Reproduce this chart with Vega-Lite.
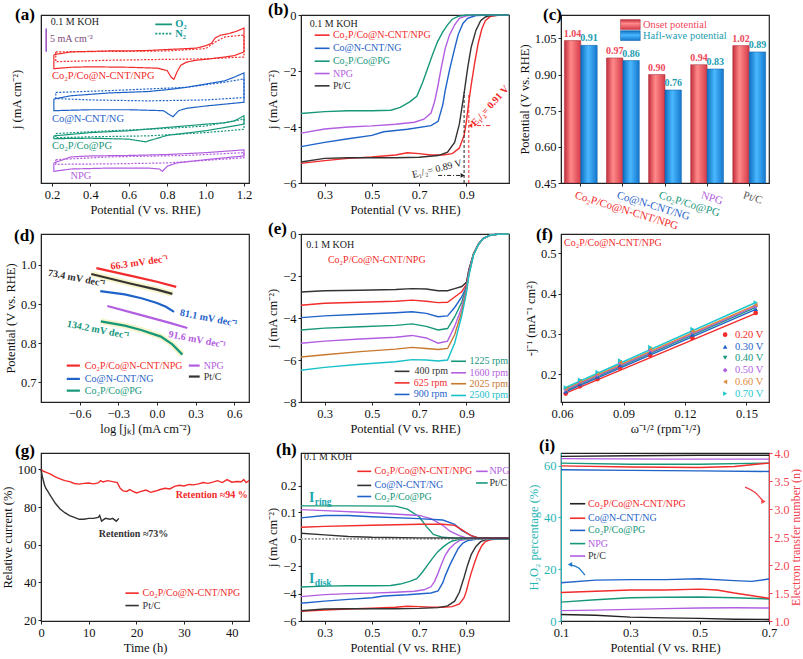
{
"$schema": "https://vega.github.io/schema/vega-lite/v6.json",
"autosize": {"type": "pad"},
"padding": {"top": 0, "left": 0, "right": 0, "bottom": 0},
"background": "white",
"config": {
 "font": "Liberation Serif",
 "view": {"stroke": "#222222", "strokeWidth": 1.2},
 "axis": {"labelFont": "Liberation Serif", "titleFont": "Liberation Serif", "labelFontSize": 12.5, "titleFontSize": 12.5, "titleFontWeight": "normal", "labelColor": "#111111", "titleColor": "#111111", "domainColor": "#222222", "tickColor": "#222222", "grid": false, "tickSize": 3, "labelFlush": false, "labelOverlap": false, "labelPadding": 2, "titlePadding": 3},
 "text": {"font": "Liberation Serif"},
 "title": {"font": "Liberation Serif"}
},
"datasets": {
 "cv": [
  {"s":"Co₂P/Co@N-CNT/NPG","m":"O₂","i":1,"x":0.21,"y":27.5},{"s":"Co₂P/Co@N-CNT/NPG","m":"O₂","i":2,"x":0.3,"y":28.1},{"s":"Co₂P/Co@N-CNT/NPG","m":"O₂","i":3,"x":0.4,"y":28.2},{"s":"Co₂P/Co@N-CNT/NPG","m":"O₂","i":4,"x":0.5,"y":28.3},{"s":"Co₂P/Co@N-CNT/NPG","m":"O₂","i":5,"x":0.6,"y":28.3},{"s":"Co₂P/Co@N-CNT/NPG","m":"O₂","i":6,"x":0.7,"y":28.4},{"s":"Co₂P/Co@N-CNT/NPG","m":"O₂","i":7,"x":0.8,"y":28.6},{"s":"Co₂P/Co@N-CNT/NPG","m":"O₂","i":8,"x":0.9,"y":28.8},{"s":"Co₂P/Co@N-CNT/NPG","m":"O₂","i":9,"x":0.95,"y":28.9},{"s":"Co₂P/Co@N-CNT/NPG","m":"O₂","i":10,"x":1.0,"y":29.4},{"s":"Co₂P/Co@N-CNT/NPG","m":"O₂","i":11,"x":1.03,"y":29.9},{"s":"Co₂P/Co@N-CNT/NPG","m":"O₂","i":12,"x":1.05,"y":31.1},{"s":"Co₂P/Co@N-CNT/NPG","m":"O₂","i":13,"x":1.08,"y":31.7},{"s":"Co₂P/Co@N-CNT/NPG","m":"O₂","i":14,"x":1.12,"y":32.0},{"s":"Co₂P/Co@N-CNT/NPG","m":"O₂","i":15,"x":1.16,"y":32.5},{"s":"Co₂P/Co@N-CNT/NPG","m":"O₂","i":16,"x":1.2,"y":33.2},{"s":"Co₂P/Co@N-CNT/NPG","m":"O₂","i":17,"x":1.2,"y":28.1},{"s":"Co₂P/Co@N-CNT/NPG","m":"O₂","i":18,"x":1.15,"y":27.3},{"s":"Co₂P/Co@N-CNT/NPG","m":"O₂","i":19,"x":1.1,"y":27.0},{"s":"Co₂P/Co@N-CNT/NPG","m":"O₂","i":20,"x":1.0,"y":26.5},{"s":"Co₂P/Co@N-CNT/NPG","m":"O₂","i":21,"x":0.95,"y":26.3},{"s":"Co₂P/Co@N-CNT/NPG","m":"O₂","i":22,"x":0.9,"y":25.9},{"s":"Co₂P/Co@N-CNT/NPG","m":"O₂","i":23,"x":0.87,"y":25.2},{"s":"Co₂P/Co@N-CNT/NPG","m":"O₂","i":24,"x":0.85,"y":23.7},{"s":"Co₂P/Co@N-CNT/NPG","m":"O₂","i":25,"x":0.835,"y":22.2},{"s":"Co₂P/Co@N-CNT/NPG","m":"O₂","i":26,"x":0.82,"y":22.7},{"s":"Co₂P/Co@N-CNT/NPG","m":"O₂","i":27,"x":0.8,"y":24.1},{"s":"Co₂P/Co@N-CNT/NPG","m":"O₂","i":28,"x":0.75,"y":24.6},{"s":"Co₂P/Co@N-CNT/NPG","m":"O₂","i":29,"x":0.6,"y":24.8},{"s":"Co₂P/Co@N-CNT/NPG","m":"O₂","i":30,"x":0.4,"y":24.9},{"s":"Co₂P/Co@N-CNT/NPG","m":"O₂","i":31,"x":0.3,"y":24.8},{"s":"Co₂P/Co@N-CNT/NPG","m":"O₂","i":32,"x":0.21,"y":24.5},{"s":"Co₂P/Co@N-CNT/NPG","m":"O₂","i":33,"x":0.21,"y":27.5},
  {"s":"Co₂P/Co@N-CNT/NPG","m":"N₂","i":1,"x":0.22,"y":28.1},{"s":"Co₂P/Co@N-CNT/NPG","m":"N₂","i":2,"x":0.5,"y":28.2},{"s":"Co₂P/Co@N-CNT/NPG","m":"N₂","i":3,"x":0.8,"y":28.3},{"s":"Co₂P/Co@N-CNT/NPG","m":"N₂","i":4,"x":1.0,"y":28.8},{"s":"Co₂P/Co@N-CNT/NPG","m":"N₂","i":5,"x":1.05,"y":30.2},{"s":"Co₂P/Co@N-CNT/NPG","m":"N₂","i":6,"x":1.1,"y":31.3},{"s":"Co₂P/Co@N-CNT/NPG","m":"N₂","i":7,"x":1.2,"y":31.7},{"s":"Co₂P/Co@N-CNT/NPG","m":"N₂","i":8,"x":1.2,"y":27.0},{"s":"Co₂P/Co@N-CNT/NPG","m":"N₂","i":9,"x":1.0,"y":26.6},{"s":"Co₂P/Co@N-CNT/NPG","m":"N₂","i":10,"x":0.8,"y":26.5},{"s":"Co₂P/Co@N-CNT/NPG","m":"N₂","i":11,"x":0.5,"y":26.3},{"s":"Co₂P/Co@N-CNT/NPG","m":"N₂","i":12,"x":0.22,"y":26.0},{"s":"Co₂P/Co@N-CNT/NPG","m":"N₂","i":13,"x":0.22,"y":28.1},
  {"s":"Co@N-CNT/NG","m":"O₂","i":1,"x":0.21,"y":18.0},{"s":"Co@N-CNT/NG","m":"O₂","i":2,"x":0.3,"y":18.7},{"s":"Co@N-CNT/NG","m":"O₂","i":3,"x":0.5,"y":19.3},{"s":"Co@N-CNT/NG","m":"O₂","i":4,"x":0.7,"y":19.6},{"s":"Co@N-CNT/NG","m":"O₂","i":5,"x":0.8,"y":20.0},{"s":"Co@N-CNT/NG","m":"O₂","i":6,"x":0.9,"y":20.5},{"s":"Co@N-CNT/NG","m":"O₂","i":7,"x":1.0,"y":21.2},{"s":"Co@N-CNT/NG","m":"O₂","i":8,"x":1.1,"y":21.9},{"s":"Co@N-CNT/NG","m":"O₂","i":9,"x":1.15,"y":22.7},{"s":"Co@N-CNT/NG","m":"O₂","i":10,"x":1.2,"y":23.6},{"s":"Co@N-CNT/NG","m":"O₂","i":11,"x":1.2,"y":17.3},{"s":"Co@N-CNT/NG","m":"O₂","i":12,"x":1.1,"y":16.9},{"s":"Co@N-CNT/NG","m":"O₂","i":13,"x":1.0,"y":16.5},{"s":"Co@N-CNT/NG","m":"O₂","i":14,"x":0.9,"y":16.0},{"s":"Co@N-CNT/NG","m":"O₂","i":15,"x":0.86,"y":15.5},{"s":"Co@N-CNT/NG","m":"O₂","i":16,"x":0.83,"y":14.2},{"s":"Co@N-CNT/NG","m":"O₂","i":17,"x":0.81,"y":14.7},{"s":"Co@N-CNT/NG","m":"O₂","i":18,"x":0.78,"y":15.5},{"s":"Co@N-CNT/NG","m":"O₂","i":19,"x":0.6,"y":15.7},{"s":"Co@N-CNT/NG","m":"O₂","i":20,"x":0.4,"y":15.7},{"s":"Co@N-CNT/NG","m":"O₂","i":21,"x":0.21,"y":15.5},{"s":"Co@N-CNT/NG","m":"O₂","i":22,"x":0.21,"y":18.0},
  {"s":"Co@N-CNT/NG","m":"N₂","i":1,"x":0.22,"y":19.4},{"s":"Co@N-CNT/NG","m":"N₂","i":2,"x":0.5,"y":19.8},{"s":"Co@N-CNT/NG","m":"N₂","i":3,"x":0.9,"y":20.5},{"s":"Co@N-CNT/NG","m":"N₂","i":4,"x":1.1,"y":21.6},{"s":"Co@N-CNT/NG","m":"N₂","i":5,"x":1.2,"y":22.3},{"s":"Co@N-CNT/NG","m":"N₂","i":6,"x":1.2,"y":18.3},{"s":"Co@N-CNT/NG","m":"N₂","i":7,"x":1.0,"y":17.8},{"s":"Co@N-CNT/NG","m":"N₂","i":8,"x":0.7,"y":17.6},{"s":"Co@N-CNT/NG","m":"N₂","i":9,"x":0.4,"y":17.8},{"s":"Co@N-CNT/NG","m":"N₂","i":10,"x":0.22,"y":18.1},{"s":"Co@N-CNT/NG","m":"N₂","i":11,"x":0.22,"y":19.4},
  {"s":"Co₂P/Co@PG","m":"O₂","i":1,"x":0.21,"y":10.1},{"s":"Co₂P/Co@PG","m":"O₂","i":2,"x":0.4,"y":10.8},{"s":"Co₂P/Co@PG","m":"O₂","i":3,"x":0.6,"y":11.2},{"s":"Co₂P/Co@PG","m":"O₂","i":4,"x":0.8,"y":11.9},{"s":"Co₂P/Co@PG","m":"O₂","i":5,"x":1.0,"y":12.6},{"s":"Co₂P/Co@PG","m":"O₂","i":6,"x":1.1,"y":12.9},{"s":"Co₂P/Co@PG","m":"O₂","i":7,"x":1.15,"y":13.3},{"s":"Co₂P/Co@PG","m":"O₂","i":8,"x":1.2,"y":14.4},{"s":"Co₂P/Co@PG","m":"O₂","i":9,"x":1.2,"y":12.6},{"s":"Co₂P/Co@PG","m":"O₂","i":10,"x":1.1,"y":11.9},{"s":"Co₂P/Co@PG","m":"O₂","i":11,"x":1.0,"y":11.2},{"s":"Co₂P/Co@PG","m":"O₂","i":12,"x":0.8,"y":10.2},{"s":"Co₂P/Co@PG","m":"O₂","i":13,"x":0.7,"y":9.0},{"s":"Co₂P/Co@PG","m":"O₂","i":14,"x":0.69,"y":8.8},{"s":"Co₂P/Co@PG","m":"O₂","i":15,"x":0.6,"y":9.4},{"s":"Co₂P/Co@PG","m":"O₂","i":16,"x":0.4,"y":9.6},{"s":"Co₂P/Co@PG","m":"O₂","i":17,"x":0.21,"y":9.5},{"s":"Co₂P/Co@PG","m":"O₂","i":18,"x":0.21,"y":10.1},
  {"s":"Co₂P/Co@PG","m":"N₂","i":1,"x":0.22,"y":10.6},{"s":"Co₂P/Co@PG","m":"N₂","i":2,"x":0.5,"y":11.2},{"s":"Co₂P/Co@PG","m":"N₂","i":3,"x":0.8,"y":11.7},{"s":"Co₂P/Co@PG","m":"N₂","i":4,"x":1.0,"y":12.2},{"s":"Co₂P/Co@PG","m":"N₂","i":5,"x":1.2,"y":13.7},{"s":"Co₂P/Co@PG","m":"N₂","i":6,"x":1.2,"y":11.5},{"s":"Co₂P/Co@PG","m":"N₂","i":7,"x":1.0,"y":10.8},{"s":"Co₂P/Co@PG","m":"N₂","i":8,"x":0.7,"y":10.1},{"s":"Co₂P/Co@PG","m":"N₂","i":9,"x":0.4,"y":9.9},{"s":"Co₂P/Co@PG","m":"N₂","i":10,"x":0.22,"y":9.7},{"s":"Co₂P/Co@PG","m":"N₂","i":11,"x":0.22,"y":10.6},
  {"s":"NPG","m":"O₂","i":1,"x":0.21,"y":4.3},{"s":"NPG","m":"O₂","i":2,"x":0.3,"y":5.6},{"s":"NPG","m":"O₂","i":3,"x":0.4,"y":5.8},{"s":"NPG","m":"O₂","i":4,"x":0.6,"y":5.9},{"s":"NPG","m":"O₂","i":5,"x":0.8,"y":6.1},{"s":"NPG","m":"O₂","i":6,"x":1.0,"y":6.5},{"s":"NPG","m":"O₂","i":7,"x":1.2,"y":7.1},{"s":"NPG","m":"O₂","i":8,"x":1.2,"y":5.8},{"s":"NPG","m":"O₂","i":9,"x":1.0,"y":5.0},{"s":"NPG","m":"O₂","i":10,"x":0.85,"y":4.3},{"s":"NPG","m":"O₂","i":11,"x":0.8,"y":3.6},{"s":"NPG","m":"O₂","i":12,"x":0.775,"y":2.5},{"s":"NPG","m":"O₂","i":13,"x":0.76,"y":3.0},{"s":"NPG","m":"O₂","i":14,"x":0.7,"y":3.2},{"s":"NPG","m":"O₂","i":15,"x":0.5,"y":3.2},{"s":"NPG","m":"O₂","i":16,"x":0.3,"y":3.0},{"s":"NPG","m":"O₂","i":17,"x":0.21,"y":2.5},{"s":"NPG","m":"O₂","i":18,"x":0.21,"y":4.3},
  {"s":"NPG","m":"N₂","i":1,"x":0.22,"y":5.0},{"s":"NPG","m":"N₂","i":2,"x":0.5,"y":5.6},{"s":"NPG","m":"N₂","i":3,"x":0.9,"y":5.9},{"s":"NPG","m":"N₂","i":4,"x":1.2,"y":6.5},{"s":"NPG","m":"N₂","i":5,"x":1.2,"y":5.4},{"s":"NPG","m":"N₂","i":6,"x":0.8,"y":4.3},{"s":"NPG","m":"N₂","i":7,"x":0.5,"y":4.1},{"s":"NPG","m":"N₂","i":8,"x":0.22,"y":4.0},{"s":"NPG","m":"N₂","i":9,"x":0.22,"y":5.0}
 ],
 "lsv": [
  {"s":"Co₂P/Co@N-CNT/NPG","x":0.2,"y":-5.3},{"s":"Co₂P/Co@N-CNT/NPG","x":0.3,"y":-5.2},{"s":"Co₂P/Co@N-CNT/NPG","x":0.4,"y":-5.12},{"s":"Co₂P/Co@N-CNT/NPG","x":0.5,"y":-5.07},{"s":"Co₂P/Co@N-CNT/NPG","x":0.6,"y":-5.0},{"s":"Co₂P/Co@N-CNT/NPG","x":0.65,"y":-4.92},{"s":"Co₂P/Co@N-CNT/NPG","x":0.7,"y":-4.95},{"s":"Co₂P/Co@N-CNT/NPG","x":0.75,"y":-5.0},{"s":"Co₂P/Co@N-CNT/NPG","x":0.8,"y":-5.0},{"s":"Co₂P/Co@N-CNT/NPG","x":0.84,"y":-4.95},{"s":"Co₂P/Co@N-CNT/NPG","x":0.87,"y":-4.75},{"s":"Co₂P/Co@N-CNT/NPG","x":0.89,"y":-4.3},{"s":"Co₂P/Co@N-CNT/NPG","x":0.9,"y":-3.8},{"s":"Co₂P/Co@N-CNT/NPG","x":0.91,"y":-3.1},{"s":"Co₂P/Co@N-CNT/NPG","x":0.92,"y":-2.5},{"s":"Co₂P/Co@N-CNT/NPG","x":0.935,"y":-1.7},{"s":"Co₂P/Co@N-CNT/NPG","x":0.95,"y":-1.0},{"s":"Co₂P/Co@N-CNT/NPG","x":0.965,"y":-0.5},{"s":"Co₂P/Co@N-CNT/NPG","x":0.98,"y":-0.2},{"s":"Co₂P/Co@N-CNT/NPG","x":1.0,"y":-0.06},{"s":"Co₂P/Co@N-CNT/NPG","x":1.03,"y":-0.01},{"s":"Co₂P/Co@N-CNT/NPG","x":1.08,"y":0},
  {"s":"Pt/C","x":0.2,"y":-5.25},{"s":"Pt/C","x":0.3,"y":-5.12},{"s":"Pt/C","x":0.4,"y":-5.1},{"s":"Pt/C","x":0.5,"y":-5.1},{"s":"Pt/C","x":0.6,"y":-5.1},{"s":"Pt/C","x":0.7,"y":-5.08},{"s":"Pt/C","x":0.78,"y":-5.02},{"s":"Pt/C","x":0.82,"y":-4.9},{"s":"Pt/C","x":0.85,"y":-4.55},{"s":"Pt/C","x":0.87,"y":-3.9},{"s":"Pt/C","x":0.89,"y":-2.8},{"s":"Pt/C","x":0.905,"y":-1.9},{"s":"Pt/C","x":0.92,"y":-1.15},{"s":"Pt/C","x":0.94,"y":-0.55},{"s":"Pt/C","x":0.96,"y":-0.2},{"s":"Pt/C","x":0.98,"y":-0.07},{"s":"Pt/C","x":1.0,"y":-0.02},{"s":"Pt/C","x":1.08,"y":0},
  {"s":"Co@N-CNT/NG","x":0.2,"y":-4.7},{"s":"Co@N-CNT/NG","x":0.3,"y":-4.55},{"s":"Co@N-CNT/NG","x":0.4,"y":-4.42},{"s":"Co@N-CNT/NG","x":0.5,"y":-4.3},{"s":"Co@N-CNT/NG","x":0.55,"y":-4.17},{"s":"Co@N-CNT/NG","x":0.65,"y":-4.08},{"s":"Co@N-CNT/NG","x":0.75,"y":-3.95},{"s":"Co@N-CNT/NG","x":0.78,"y":-3.8},{"s":"Co@N-CNT/NG","x":0.8,"y":-3.2},{"s":"Co@N-CNT/NG","x":0.81,"y":-2.7},{"s":"Co@N-CNT/NG","x":0.83,"y":-1.9},{"s":"Co@N-CNT/NG","x":0.85,"y":-1.2},{"s":"Co@N-CNT/NG","x":0.865,"y":-0.7},{"s":"Co@N-CNT/NG","x":0.885,"y":-0.3},{"s":"Co@N-CNT/NG","x":0.905,"y":-0.12},{"s":"Co@N-CNT/NG","x":0.94,"y":-0.02},{"s":"Co@N-CNT/NG","x":1.0,"y":0},{"s":"Co@N-CNT/NG","x":1.08,"y":0},
  {"s":"NPG","x":0.2,"y":-4.22},{"s":"NPG","x":0.3,"y":-4.07},{"s":"NPG","x":0.4,"y":-4.0},{"s":"NPG","x":0.5,"y":-3.96},{"s":"NPG","x":0.6,"y":-3.9},{"s":"NPG","x":0.68,"y":-3.83},{"s":"NPG","x":0.72,"y":-3.72},{"s":"NPG","x":0.75,"y":-3.5},{"s":"NPG","x":0.765,"y":-3.1},{"s":"NPG","x":0.78,"y":-2.5},{"s":"NPG","x":0.793,"y":-1.9},{"s":"NPG","x":0.81,"y":-1.2},{"s":"NPG","x":0.828,"y":-0.72},{"s":"NPG","x":0.85,"y":-0.35},{"s":"NPG","x":0.87,"y":-0.12},{"s":"NPG","x":0.9,"y":-0.03},{"s":"NPG","x":0.94,"y":0},{"s":"NPG","x":1.08,"y":0},
  {"s":"Co₂P/Co@PG","x":0.2,"y":-3.52},{"s":"Co₂P/Co@PG","x":0.3,"y":-3.45},{"s":"Co₂P/Co@PG","x":0.4,"y":-3.42},{"s":"Co₂P/Co@PG","x":0.5,"y":-3.42},{"s":"Co₂P/Co@PG","x":0.58,"y":-3.4},{"s":"Co₂P/Co@PG","x":0.62,"y":-3.3},{"s":"Co₂P/Co@PG","x":0.66,"y":-3.1},{"s":"Co₂P/Co@PG","x":0.69,"y":-2.9},{"s":"Co₂P/Co@PG","x":0.715,"y":-2.4},{"s":"Co₂P/Co@PG","x":0.736,"y":-1.9},{"s":"Co₂P/Co@PG","x":0.757,"y":-1.4},{"s":"Co₂P/Co@PG","x":0.778,"y":-0.95},{"s":"Co₂P/Co@PG","x":0.8,"y":-0.6},{"s":"Co₂P/Co@PG","x":0.82,"y":-0.35},{"s":"Co₂P/Co@PG","x":0.84,"y":-0.15},{"s":"Co₂P/Co@PG","x":0.865,"y":-0.05},{"s":"Co₂P/Co@PG","x":0.9,"y":0},{"s":"Co₂P/Co@PG","x":1.08,"y":0}
 ],
 "bars": [
  {"cat":"Co₂P/Co@N-CNT/NPG","type":"Onset potential","v":1.041,"lab":"1.04"},
  {"cat":"Co@N-CNT/NG","type":"Onset potential","v":0.969,"lab":"0.97"},
  {"cat":"Co₂P/Co@PG","type":"Onset potential","v":0.90,"lab":"0.90"},
  {"cat":"NPG","type":"Onset potential","v":0.941,"lab":"0.94"},
  {"cat":"Pt/C","type":"Onset potential","v":1.02,"lab":"1.02"},
  {"cat":"Co₂P/Co@N-CNT/NPG","type":"Hafl-wave potential","v":1.021,"lab":"0.91"},
  {"cat":"Co@N-CNT/NG","type":"Hafl-wave potential","v":0.958,"lab":"0.86"},
  {"cat":"Co₂P/Co@PG","type":"Hafl-wave potential","v":0.836,"lab":"0.76"},
  {"cat":"NPG","type":"Hafl-wave potential","v":0.923,"lab":"0.83"},
  {"cat":"Pt/C","type":"Hafl-wave potential","v":0.994,"lab":"0.89"}
 ],
 "tafel": [
  {"s":"Co₂P/Co@N-CNT/NPG","x":-0.47,"y":0.992},{"s":"Co₂P/Co@N-CNT/NPG","x":-0.2,"y":0.972},{"s":"Co₂P/Co@N-CNT/NPG","x":0.0,"y":0.957},{"s":"Co₂P/Co@N-CNT/NPG","x":0.15,"y":0.944},
  {"s":"Pt/C","x":-0.51,"y":0.977},{"s":"Pt/C","x":-0.2,"y":0.952},{"s":"Pt/C","x":0.0,"y":0.937},{"s":"Pt/C","x":0.12,"y":0.926},
  {"s":"Co@N-CNT/NG","x":-0.44,"y":0.933},{"s":"Co@N-CNT/NG","x":-0.25,"y":0.925},{"s":"Co@N-CNT/NG","x":-0.12,"y":0.915},{"s":"Co@N-CNT/NG","x":0.0,"y":0.903},{"s":"Co@N-CNT/NG","x":0.07,"y":0.893},{"s":"Co@N-CNT/NG","x":0.133,"y":0.880},
  {"s":"NPG","x":-0.385,"y":0.895},{"s":"NPG","x":-0.1,"y":0.870},{"s":"NPG","x":0.1,"y":0.852},{"s":"NPG","x":0.236,"y":0.839},
  {"s":"Co₂P/Co@PG","x":-0.436,"y":0.856},{"s":"Co₂P/Co@PG","x":-0.25,"y":0.845},{"s":"Co₂P/Co@PG","x":-0.123,"y":0.834},{"s":"Co₂P/Co@PG","x":0.031,"y":0.817},{"s":"Co₂P/Co@PG","x":0.12,"y":0.797},{"s":"Co₂P/Co@PG","x":0.198,"y":0.771}
 ],
 "rpm": [
  {"r":"400 rpm","x":0.2,"y":-2.76},{"r":"400 rpm","x":0.3,"y":-2.7},{"r":"400 rpm","x":0.45,"y":-2.68},{"r":"400 rpm","x":0.6,"y":-2.64},{"r":"400 rpm","x":0.67,"y":-2.6},{"r":"400 rpm","x":0.73,"y":-2.62},{"r":"400 rpm","x":0.78,"y":-2.7},{"r":"400 rpm","x":0.82,"y":-2.7},{"r":"400 rpm","x":0.85,"y":-2.6},{"r":"400 rpm","x":0.88,"y":-2.5},{"r":"400 rpm","x":0.9,"y":-2.3},{"r":"400 rpm","x":0.91,"y":-1.7},{"r":"400 rpm","x":0.93,"y":-0.94},{"r":"400 rpm","x":0.95,"y":-0.5},{"r":"400 rpm","x":0.97,"y":-0.22},{"r":"400 rpm","x":1.0,"y":-0.06},{"r":"400 rpm","x":1.03,"y":-0.01},{"r":"400 rpm","x":1.08,"y":0},
  {"r":"625 rpm","x":0.2,"y":-3.39},{"r":"625 rpm","x":0.3,"y":-3.3},{"r":"625 rpm","x":0.45,"y":-3.25},{"r":"625 rpm","x":0.6,"y":-3.2},{"r":"625 rpm","x":0.67,"y":-3.15},{"r":"625 rpm","x":0.73,"y":-3.2},{"r":"625 rpm","x":0.78,"y":-3.27},{"r":"625 rpm","x":0.82,"y":-3.25},{"r":"625 rpm","x":0.85,"y":-3.0},{"r":"625 rpm","x":0.88,"y":-2.75},{"r":"625 rpm","x":0.9,"y":-2.4},{"r":"625 rpm","x":0.91,"y":-1.75},{"r":"625 rpm","x":0.93,"y":-0.94},{"r":"625 rpm","x":0.95,"y":-0.5},{"r":"625 rpm","x":0.97,"y":-0.22},{"r":"625 rpm","x":1.0,"y":-0.06},{"r":"625 rpm","x":1.03,"y":-0.01},{"r":"625 rpm","x":1.08,"y":0},
  {"r":"900 rpm","x":0.2,"y":-3.98},{"r":"900 rpm","x":0.3,"y":-3.9},{"r":"900 rpm","x":0.45,"y":-3.82},{"r":"900 rpm","x":0.6,"y":-3.75},{"r":"900 rpm","x":0.67,"y":-3.7},{"r":"900 rpm","x":0.73,"y":-3.78},{"r":"900 rpm","x":0.78,"y":-3.94},{"r":"900 rpm","x":0.82,"y":-3.9},{"r":"900 rpm","x":0.85,"y":-3.5},{"r":"900 rpm","x":0.88,"y":-3.0},{"r":"900 rpm","x":0.9,"y":-2.5},{"r":"900 rpm","x":0.91,"y":-1.8},{"r":"900 rpm","x":0.93,"y":-0.95},{"r":"900 rpm","x":0.95,"y":-0.5},{"r":"900 rpm","x":0.97,"y":-0.22},{"r":"900 rpm","x":1.0,"y":-0.06},{"r":"900 rpm","x":1.03,"y":-0.01},{"r":"900 rpm","x":1.08,"y":0},
  {"r":"1225 rpm","x":0.2,"y":-4.57},{"r":"1225 rpm","x":0.3,"y":-4.48},{"r":"1225 rpm","x":0.45,"y":-4.42},{"r":"1225 rpm","x":0.6,"y":-4.35},{"r":"1225 rpm","x":0.67,"y":-4.28},{"r":"1225 rpm","x":0.73,"y":-4.4},{"r":"1225 rpm","x":0.78,"y":-4.57},{"r":"1225 rpm","x":0.82,"y":-4.5},{"r":"1225 rpm","x":0.85,"y":-3.95},{"r":"1225 rpm","x":0.88,"y":-3.25},{"r":"1225 rpm","x":0.9,"y":-2.55},{"r":"1225 rpm","x":0.91,"y":-1.85},{"r":"1225 rpm","x":0.93,"y":-0.96},{"r":"1225 rpm","x":0.95,"y":-0.5},{"r":"1225 rpm","x":0.97,"y":-0.22},{"r":"1225 rpm","x":1.0,"y":-0.06},{"r":"1225 rpm","x":1.03,"y":-0.01},{"r":"1225 rpm","x":1.08,"y":0},
  {"r":"1600 rpm","x":0.2,"y":-5.2},{"r":"1600 rpm","x":0.3,"y":-5.1},{"r":"1600 rpm","x":0.45,"y":-5.0},{"r":"1600 rpm","x":0.6,"y":-4.92},{"r":"1600 rpm","x":0.67,"y":-4.83},{"r":"1600 rpm","x":0.73,"y":-4.95},{"r":"1600 rpm","x":0.78,"y":-5.2},{"r":"1600 rpm","x":0.82,"y":-5.1},{"r":"1600 rpm","x":0.85,"y":-4.4},{"r":"1600 rpm","x":0.88,"y":-3.5},{"r":"1600 rpm","x":0.9,"y":-2.6},{"r":"1600 rpm","x":0.91,"y":-1.9},{"r":"1600 rpm","x":0.93,"y":-0.97},{"r":"1600 rpm","x":0.95,"y":-0.51},{"r":"1600 rpm","x":0.97,"y":-0.22},{"r":"1600 rpm","x":1.0,"y":-0.06},{"r":"1600 rpm","x":1.03,"y":-0.01},{"r":"1600 rpm","x":1.08,"y":0},
  {"r":"2025 rpm","x":0.2,"y":-5.86},{"r":"2025 rpm","x":0.3,"y":-5.75},{"r":"2025 rpm","x":0.45,"y":-5.6},{"r":"2025 rpm","x":0.6,"y":-5.48},{"r":"2025 rpm","x":0.67,"y":-5.4},{"r":"2025 rpm","x":0.73,"y":-5.45},{"r":"2025 rpm","x":0.78,"y":-5.5},{"r":"2025 rpm","x":0.82,"y":-5.45},{"r":"2025 rpm","x":0.85,"y":-4.8},{"r":"2025 rpm","x":0.88,"y":-3.7},{"r":"2025 rpm","x":0.9,"y":-2.7},{"r":"2025 rpm","x":0.91,"y":-1.95},{"r":"2025 rpm","x":0.93,"y":-0.98},{"r":"2025 rpm","x":0.95,"y":-0.51},{"r":"2025 rpm","x":0.97,"y":-0.22},{"r":"2025 rpm","x":1.0,"y":-0.06},{"r":"2025 rpm","x":1.03,"y":-0.01},{"r":"2025 rpm","x":1.08,"y":0},
  {"r":"2500 rpm","x":0.2,"y":-6.49},{"r":"2500 rpm","x":0.3,"y":-6.35},{"r":"2500 rpm","x":0.45,"y":-6.2},{"r":"2500 rpm","x":0.6,"y":-6.08},{"r":"2500 rpm","x":0.67,"y":-5.98},{"r":"2500 rpm","x":0.73,"y":-6.0},{"r":"2500 rpm","x":0.78,"y":-6.05},{"r":"2500 rpm","x":0.82,"y":-6.0},{"r":"2500 rpm","x":0.85,"y":-5.2},{"r":"2500 rpm","x":0.88,"y":-3.9},{"r":"2500 rpm","x":0.9,"y":-2.8},{"r":"2500 rpm","x":0.91,"y":-2.0},{"r":"2500 rpm","x":0.93,"y":-1.0},{"r":"2500 rpm","x":0.95,"y":-0.52},{"r":"2500 rpm","x":0.97,"y":-0.22},{"r":"2500 rpm","x":1.0,"y":-0.06},{"r":"2500 rpm","x":1.03,"y":-0.01},{"r":"2500 rpm","x":1.08,"y":0}
 ],
 "kl": [
  {"v":"0.20 V","x":0.0618,"y":0.152},{"v":"0.20 V","x":0.0687,"y":0.170},{"v":"0.20 V","x":0.0773,"y":0.188},{"v":"0.20 V","x":0.0883,"y":0.216},{"v":"0.20 V","x":0.1030,"y":0.247},{"v":"0.20 V","x":0.1236,"y":0.290},{"v":"0.20 V","x":0.1545,"y":0.352},
  {"v":"0.30 V","x":0.0618,"y":0.157},{"v":"0.30 V","x":0.0687,"y":0.175},{"v":"0.30 V","x":0.0773,"y":0.194},{"v":"0.30 V","x":0.0883,"y":0.222},{"v":"0.30 V","x":0.1030,"y":0.254},{"v":"0.30 V","x":0.1236,"y":0.298},{"v":"0.30 V","x":0.1545,"y":0.362},
  {"v":"0.40 V","x":0.0618,"y":0.160},{"v":"0.40 V","x":0.0687,"y":0.178},{"v":"0.40 V","x":0.0773,"y":0.197},{"v":"0.40 V","x":0.0883,"y":0.226},{"v":"0.40 V","x":0.1030,"y":0.258},{"v":"0.40 V","x":0.1236,"y":0.302},{"v":"0.40 V","x":0.1545,"y":0.366},
  {"v":"0.50 V","x":0.0618,"y":0.162},{"v":"0.50 V","x":0.0687,"y":0.181},{"v":"0.50 V","x":0.0773,"y":0.199},{"v":"0.50 V","x":0.0883,"y":0.228},{"v":"0.50 V","x":0.1030,"y":0.260},{"v":"0.50 V","x":0.1236,"y":0.305},{"v":"0.50 V","x":0.1545,"y":0.369},
  {"v":"0.60 V","x":0.0618,"y":0.164},{"v":"0.60 V","x":0.0687,"y":0.183},{"v":"0.60 V","x":0.0773,"y":0.201},{"v":"0.60 V","x":0.0883,"y":0.230},{"v":"0.60 V","x":0.1030,"y":0.263},{"v":"0.60 V","x":0.1236,"y":0.307},{"v":"0.60 V","x":0.1545,"y":0.372},
  {"v":"0.70 V","x":0.0618,"y":0.167},{"v":"0.70 V","x":0.0687,"y":0.186},{"v":"0.70 V","x":0.0773,"y":0.205},{"v":"0.70 V","x":0.0883,"y":0.234},{"v":"0.70 V","x":0.1030,"y":0.267},{"v":"0.70 V","x":0.1236,"y":0.312},{"v":"0.70 V","x":0.1545,"y":0.378}
 ],
 "klfit": [
  {"v":"0.20 V","x":0.0618,"y":0.153},{"v":"0.20 V","x":0.1545,"y":0.351},
  {"v":"0.30 V","x":0.0618,"y":0.157},{"v":"0.30 V","x":0.1545,"y":0.361},
  {"v":"0.40 V","x":0.0618,"y":0.160},{"v":"0.40 V","x":0.1545,"y":0.366},
  {"v":"0.50 V","x":0.0618,"y":0.162},{"v":"0.50 V","x":0.1545,"y":0.369},
  {"v":"0.60 V","x":0.0618,"y":0.164},{"v":"0.60 V","x":0.1545,"y":0.372},
  {"v":"0.70 V","x":0.0618,"y":0.167},{"v":"0.70 V","x":0.1545,"y":0.378}
 ],
 "stab": [
  {"s":"Co₂P/Co@N-CNT/NPG","t":0,"y":100},{"s":"Co₂P/Co@N-CNT/NPG","t":0.5,"y":99},{"s":"Co₂P/Co@N-CNT/NPG","t":1,"y":98.5},{"s":"Co₂P/Co@N-CNT/NPG","t":2,"y":97.5},{"s":"Co₂P/Co@N-CNT/NPG","t":3,"y":96},{"s":"Co₂P/Co@N-CNT/NPG","t":4,"y":95},{"s":"Co₂P/Co@N-CNT/NPG","t":5,"y":94},{"s":"Co₂P/Co@N-CNT/NPG","t":6,"y":93.5},{"s":"Co₂P/Co@N-CNT/NPG","t":7,"y":92.5},{"s":"Co₂P/Co@N-CNT/NPG","t":8,"y":92.2},{"s":"Co₂P/Co@N-CNT/NPG","t":9,"y":92.6},{"s":"Co₂P/Co@N-CNT/NPG","t":10,"y":92.8},{"s":"Co₂P/Co@N-CNT/NPG","t":11,"y":92.3},{"s":"Co₂P/Co@N-CNT/NPG","t":12,"y":92.8},{"s":"Co₂P/Co@N-CNT/NPG","t":12.5,"y":94},{"s":"Co₂P/Co@N-CNT/NPG","t":13,"y":93.3},{"s":"Co₂P/Co@N-CNT/NPG","t":14,"y":94},{"s":"Co₂P/Co@N-CNT/NPG","t":15,"y":93.5},{"s":"Co₂P/Co@N-CNT/NPG","t":16,"y":93},{"s":"Co₂P/Co@N-CNT/NPG","t":16.6,"y":90},{"s":"Co₂P/Co@N-CNT/NPG","t":17.2,"y":88.6},{"s":"Co₂P/Co@N-CNT/NPG","t":18,"y":88.3},{"s":"Co₂P/Co@N-CNT/NPG","t":18.6,"y":89.3},{"s":"Co₂P/Co@N-CNT/NPG","t":19.2,"y":88.5},{"s":"Co₂P/Co@N-CNT/NPG","t":20,"y":87.5},{"s":"Co₂P/Co@N-CNT/NPG","t":21,"y":88.3},{"s":"Co₂P/Co@N-CNT/NPG","t":22,"y":89},{"s":"Co₂P/Co@N-CNT/NPG","t":23,"y":87.8},{"s":"Co₂P/Co@N-CNT/NPG","t":24,"y":88.5},{"s":"Co₂P/Co@N-CNT/NPG","t":25,"y":89.3},{"s":"Co₂P/Co@N-CNT/NPG","t":26,"y":90},{"s":"Co₂P/Co@N-CNT/NPG","t":27,"y":89.6},{"s":"Co₂P/Co@N-CNT/NPG","t":28,"y":91},{"s":"Co₂P/Co@N-CNT/NPG","t":29,"y":91.6},{"s":"Co₂P/Co@N-CNT/NPG","t":30,"y":91.2},{"s":"Co₂P/Co@N-CNT/NPG","t":31,"y":92},{"s":"Co₂P/Co@N-CNT/NPG","t":32,"y":91.8},{"s":"Co₂P/Co@N-CNT/NPG","t":33,"y":92.3},{"s":"Co₂P/Co@N-CNT/NPG","t":34,"y":93},{"s":"Co₂P/Co@N-CNT/NPG","t":35,"y":92.6},{"s":"Co₂P/Co@N-CNT/NPG","t":36,"y":93.2},{"s":"Co₂P/Co@N-CNT/NPG","t":37,"y":94},{"s":"Co₂P/Co@N-CNT/NPG","t":38,"y":93},{"s":"Co₂P/Co@N-CNT/NPG","t":39,"y":94.6},{"s":"Co₂P/Co@N-CNT/NPG","t":40,"y":93.2},{"s":"Co₂P/Co@N-CNT/NPG","t":41,"y":93.6},{"s":"Co₂P/Co@N-CNT/NPG","t":42,"y":93.4},{"s":"Co₂P/Co@N-CNT/NPG","t":42.5,"y":94.6},{"s":"Co₂P/Co@N-CNT/NPG","t":43,"y":93},{"s":"Co₂P/Co@N-CNT/NPG","t":43.6,"y":94},
  {"s":"Pt/C","t":0,"y":100},{"s":"Pt/C","t":0.3,"y":96},{"s":"Pt/C","t":0.7,"y":92},{"s":"Pt/C","t":1,"y":90},{"s":"Pt/C","t":1.5,"y":88},{"s":"Pt/C","t":2,"y":86},{"s":"Pt/C","t":3,"y":82},{"s":"Pt/C","t":4,"y":79},{"s":"Pt/C","t":5,"y":77},{"s":"Pt/C","t":6,"y":75.5},{"s":"Pt/C","t":7,"y":74.5},{"s":"Pt/C","t":8,"y":73.5},{"s":"Pt/C","t":9,"y":73.5},{"s":"Pt/C","t":10,"y":74},{"s":"Pt/C","t":11,"y":74},{"s":"Pt/C","t":12,"y":74.5},{"s":"Pt/C","t":12.3,"y":75.5},{"s":"Pt/C","t":12.7,"y":72.5},{"s":"Pt/C","t":13.5,"y":74},{"s":"Pt/C","t":14.5,"y":73.5},{"s":"Pt/C","t":15,"y":74},{"s":"Pt/C","t":15.8,"y":72.5},{"s":"Pt/C","t":16.3,"y":74}
 ],
 "ring": [
  {"s":"Co₂P/Co@PG","x":0.2,"y":0.124},{"s":"Co₂P/Co@PG","x":0.4,"y":0.124},{"s":"Co₂P/Co@PG","x":0.6,"y":0.123},{"s":"Co₂P/Co@PG","x":0.65,"y":0.112},{"s":"Co₂P/Co@PG","x":0.7,"y":0.083},{"s":"Co₂P/Co@PG","x":0.73,"y":0.047},{"s":"Co₂P/Co@PG","x":0.76,"y":0.017},{"s":"Co₂P/Co@PG","x":0.8,"y":0.006},{"s":"Co₂P/Co@PG","x":0.85,"y":0.003},{"s":"Co₂P/Co@PG","x":1.08,"y":0.004},
  {"s":"NPG","x":0.2,"y":0.110},{"s":"NPG","x":0.3,"y":0.106},{"s":"NPG","x":0.5,"y":0.098},{"s":"NPG","x":0.7,"y":0.088},{"s":"NPG","x":0.75,"y":0.076},{"s":"NPG","x":0.8,"y":0.051},{"s":"NPG","x":0.83,"y":0.029},{"s":"NPG","x":0.87,"y":0.012},{"s":"NPG","x":0.9,"y":0.004},{"s":"NPG","x":1.08,"y":0.003},
  {"s":"Co@N-CNT/NG","x":0.2,"y":0.079},{"s":"Co@N-CNT/NG","x":0.3,"y":0.088},{"s":"Co@N-CNT/NG","x":0.4,"y":0.088},{"s":"Co@N-CNT/NG","x":0.5,"y":0.083},{"s":"Co@N-CNT/NG","x":0.7,"y":0.076},{"s":"Co@N-CNT/NG","x":0.8,"y":0.071},{"s":"Co@N-CNT/NG","x":0.85,"y":0.055},{"s":"Co@N-CNT/NG","x":0.88,"y":0.032},{"s":"Co@N-CNT/NG","x":0.92,"y":0.012},{"s":"Co@N-CNT/NG","x":0.95,"y":0.004},{"s":"Co@N-CNT/NG","x":1.08,"y":0.003},
  {"s":"Co₂P/Co@N-CNT/NPG","x":0.2,"y":0.044},{"s":"Co₂P/Co@N-CNT/NPG","x":0.3,"y":0.047},{"s":"Co₂P/Co@N-CNT/NPG","x":0.5,"y":0.051},{"s":"Co₂P/Co@N-CNT/NPG","x":0.7,"y":0.055},{"s":"Co₂P/Co@N-CNT/NPG","x":0.8,"y":0.055},{"s":"Co₂P/Co@N-CNT/NPG","x":0.85,"y":0.051},{"s":"Co₂P/Co@N-CNT/NPG","x":0.88,"y":0.035},{"s":"Co₂P/Co@N-CNT/NPG","x":0.92,"y":0.012},{"s":"Co₂P/Co@N-CNT/NPG","x":0.95,"y":0.004},{"s":"Co₂P/Co@N-CNT/NPG","x":1.08,"y":0.003},
  {"s":"Pt/C","x":0.2,"y":0.021},{"s":"Pt/C","x":0.3,"y":0.015},{"s":"Pt/C","x":0.4,"y":0.009},{"s":"Pt/C","x":0.5,"y":0.006},{"s":"Pt/C","x":0.7,"y":0.004},{"s":"Pt/C","x":1.08,"y":0.003}
 ],
 "h2o2": [
  {"s":"Co₂P/Co@N-CNT/NPG","x":0.1,"y":2.5},{"s":"Co₂P/Co@N-CNT/NPG","x":0.2,"y":2.2},{"s":"Co₂P/Co@N-CNT/NPG","x":0.3,"y":1.5},{"s":"Co₂P/Co@N-CNT/NPG","x":0.4,"y":1.2},{"s":"Co₂P/Co@N-CNT/NPG","x":0.5,"y":1.0},{"s":"Co₂P/Co@N-CNT/NPG","x":0.6,"y":0.7},{"s":"Co₂P/Co@N-CNT/NPG","x":0.7,"y":0.6},
  {"s":"Pt/C","x":0.1,"y":4.0},{"s":"Pt/C","x":0.2,"y":4.2},{"s":"Pt/C","x":0.3,"y":4.5},{"s":"Pt/C","x":0.4,"y":4.8},{"s":"Pt/C","x":0.5,"y":5.0},{"s":"Pt/C","x":0.6,"y":5.1},{"s":"Pt/C","x":0.7,"y":5.0},
  {"s":"NPG","x":0.1,"y":7.3},{"s":"NPG","x":0.2,"y":8.2},{"s":"NPG","x":0.3,"y":9.0},{"s":"NPG","x":0.4,"y":9.2},{"s":"NPG","x":0.5,"y":9.3},{"s":"NPG","x":0.6,"y":9.0},{"s":"NPG","x":0.7,"y":8.5},
  {"s":"Co@N-CNT/NG","x":0.1,"y":11.0},{"s":"Co@N-CNT/NG","x":0.2,"y":11.5},{"s":"Co@N-CNT/NG","x":0.3,"y":12.0},{"s":"Co@N-CNT/NG","x":0.4,"y":12.0},{"s":"Co@N-CNT/NG","x":0.5,"y":12.3},{"s":"Co@N-CNT/NG","x":0.55,"y":12.0},{"s":"Co@N-CNT/NG","x":0.6,"y":10.8},{"s":"Co@N-CNT/NG","x":0.7,"y":8.8},
  {"s":"Co₂P/Co@PG","x":0.1,"y":14.8},{"s":"Co₂P/Co@PG","x":0.2,"y":15.8},{"s":"Co₂P/Co@PG","x":0.3,"y":16.0},{"s":"Co₂P/Co@PG","x":0.4,"y":16.0},{"s":"Co₂P/Co@PG","x":0.5,"y":16.3},{"s":"Co₂P/Co@PG","x":0.6,"y":15.6},{"s":"Co₂P/Co@PG","x":0.65,"y":15.3},{"s":"Co₂P/Co@PG","x":0.7,"y":16.2}
 ],
 "nval": [
  {"s":"Co₂P/Co@N-CNT/NPG","x":0.1,"n":3.94},{"s":"Co₂P/Co@N-CNT/NPG","x":0.3,"n":3.95},{"s":"Co₂P/Co@N-CNT/NPG","x":0.5,"n":3.96},{"s":"Co₂P/Co@N-CNT/NPG","x":0.7,"n":3.96},
  {"s":"Pt/C","x":0.1,"n":3.90},{"s":"Pt/C","x":0.4,"n":3.89},{"s":"Pt/C","x":0.7,"n":3.89},
  {"s":"NPG","x":0.1,"n":3.82},{"s":"NPG","x":0.3,"n":3.80},{"s":"NPG","x":0.5,"n":3.80},{"s":"NPG","x":0.7,"n":3.82},
  {"s":"Co@N-CNT/NG","x":0.1,"n":3.77},{"s":"Co@N-CNT/NG","x":0.3,"n":3.75},{"s":"Co@N-CNT/NG","x":0.5,"n":3.74},{"s":"Co@N-CNT/NG","x":0.6,"n":3.76},{"s":"Co@N-CNT/NG","x":0.7,"n":3.82},
  {"s":"Co₂P/Co@PG","x":0.1,"n":3.70},{"s":"Co₂P/Co@PG","x":0.3,"n":3.69},{"s":"Co₂P/Co@PG","x":0.5,"n":3.68},{"s":"Co₂P/Co@PG","x":0.7,"n":3.67}
 ]
},
"columns": 3,
"spacing": {"row": 51, "column": 52},
"bounds": "flush",
"resolve": {"scale": {"stroke": "independent", "fill": "independent", "color": "independent", "shape": "independent", "strokeDash": "independent", "x": "independent", "y": "independent"}},
"concat": [
 {
  "width": 208, "height": 168,
  "title": {"text": "(a)", "anchor": "start", "frame": "group", "offset": -22, "baseline": "alphabetic", "dx": -26, "fontSize": 17, "fontWeight": "bold", "color": "#000000"},
  "layer": [
   {"data": {"name": "cv"}, "mark": {"type": "line", "strokeWidth": 1.2},
    "encoding": {
     "x": {"field": "x", "type": "quantitative", "scale": {"domain": [0.143, 1.226], "nice": false, "zero": false}, "axis": {"values": [0.2, 0.4, 0.6, 0.8, 1.0, 1.2], "format": ".1f", "title": "Potential (V vs. RHE)"}},
     "y": {"field": "y", "type": "quantitative", "scale": {"domain": [0, 36], "nice": false, "zero": false}, "axis": {"labels": false, "ticks": false, "title": "j (mA cm⁻²)", "titlePadding": 18}},
     "stroke": {"field": "s", "type": "nominal", "scale": {"domain": ["Co₂P/Co@N-CNT/NPG","Co@N-CNT/NG","Co₂P/Co@PG","NPG","Pt/C"], "range": ["#f22b2b","#1f63c9","#17977a","#b25ee0","#333333"]}, "legend": null},
     "strokeDash": {"field": "m", "type": "nominal", "scale": {"domain": ["O₂","N₂"], "range": [[1,0],[2,1.5]]}, "legend": null},
     "order": {"field": "i", "type": "quantitative"}}},
   {"data": {"values": [{"s":"Co₂P/Co@N-CNT/NPG","t":"Co₂P/Co@N-CNT/NPG","x":0.2,"y":23.0},{"s":"Co@N-CNT/NG","t":"Co@N-CNT/NG","x":0.2,"y":13.7},{"s":"Co₂P/Co@PG","t":"Co₂P/Co@PG","x":0.2,"y":7.9},{"s":"NPG","t":"NPG","x":0.296,"y":1.4}]},
    "mark": {"type": "text", "align": "left", "baseline": "middle", "fontSize": 10.5},
    "encoding": {"x": {"field": "x", "type": "quantitative"}, "y": {"field": "y", "type": "quantitative"}, "text": {"field": "t"},
     "fill": {"field": "s", "type": "nominal", "scale": {"domain": ["Co₂P/Co@N-CNT/NPG","Co@N-CNT/NG","Co₂P/Co@PG","NPG","Pt/C"], "range": ["#f22b2b","#1f63c9","#17977a","#b25ee0","#333333"]}, "legend": null}}},
   {"data": {"values": [{"t":"0.1 M KOH","x":0.194,"y":34.4}]}, "mark": {"type": "text", "align": "left", "baseline": "middle", "fontSize": 10, "color": "#222222"},
    "encoding": {"x": {"field": "x", "type": "quantitative"}, "y": {"field": "y", "type": "quantitative"}, "text": {"field": "t"}}},
   {"data": {"values": [{"t":"5 mA cm⁻²","x":0.19,"y":30.9}]}, "mark": {"type": "text", "align": "left", "baseline": "middle", "fontSize": 10, "color": "#7b4a7b"},
    "encoding": {"x": {"field": "x", "type": "quantitative"}, "y": {"field": "y", "type": "quantitative"}, "text": {"field": "t"}}},
   {"data": {"values": [{"x":0.17,"y":28.1,"y2":33.1}]}, "mark": {"type": "rule", "stroke": "#9a4bc0", "strokeWidth": 1.5},
    "encoding": {"x": {"field": "x", "type": "quantitative"}, "y": {"field": "y", "type": "quantitative"}, "y2": {"field": "y2"}}},
   {"data": {"values": [{"m":"O₂","x":0.738,"x2":0.825,"y":34.0},{"m":"N₂","x":0.738,"x2":0.825,"y":32.0}]}, "mark": {"type": "rule", "stroke": "#17977a", "strokeWidth": 1.6},
    "encoding": {"x": {"field": "x", "type": "quantitative"}, "x2": {"field": "x2"}, "y": {"field": "y", "type": "quantitative"}, "strokeDash": {"field": "m", "type": "nominal", "legend": null}}},
   {"data": {"values": [{"m":"O₂","x":0.842,"y":34.0},{"m":"N₂","x":0.842,"y":32.0}]}, "mark": {"type": "text", "align": "left", "baseline": "middle", "fontSize": 10.5, "fontWeight": "bold", "color": "#159a9a"},
    "encoding": {"x": {"field": "x", "type": "quantitative"}, "y": {"field": "y", "type": "quantitative"}, "text": {"field": "m"}}}
  ]
 },
 {
  "width": 208, "height": 168,
  "title": {"text": "(b)", "anchor": "start", "frame": "group", "offset": -23, "baseline": "alphabetic", "dx": -33, "fontSize": 17, "fontWeight": "bold", "color": "#000000"},
  "layer": [
   {"data": {"name": "lsv"}, "mark": {"type": "line", "strokeWidth": 1.4},
    "encoding": {
     "x": {"field": "x", "type": "quantitative", "scale": {"domain": [0.2, 1.08], "nice": false, "zero": false}, "axis": {"values": [0.3, 0.5, 0.7, 0.9], "format": ".1f", "title": "Potential (V vs. RHE)"}},
     "y": {"field": "y", "type": "quantitative", "scale": {"domain": [-6, 0], "nice": false, "zero": false}, "axis": {"values": [-6, -4, -2, 0], "title": "j (mA cm⁻²)"}},
     "stroke": {"field": "s", "type": "nominal", "scale": {"domain": ["Co₂P/Co@N-CNT/NPG","Co@N-CNT/NG","Co₂P/Co@PG","NPG","Pt/C"], "range": ["#f22b2b","#1f63c9","#17977a","#b25ee0","#333333"]}, "legend": null}}},
   {"data": {"values": [{"x":0.89,"y":-6,"y2":-2.75}]}, "mark": {"type": "rule", "stroke": "#222222", "strokeDash": [3, 2], "strokeWidth": 1},
    "encoding": {"x": {"field": "x", "type": "quantitative"}, "y": {"field": "y", "type": "quantitative"}, "y2": {"field": "y2"}}},
   {"data": {"values": [{"x":0.91,"y":-6,"y2":-2.85}]}, "mark": {"type": "rule", "stroke": "#f22b2b", "strokeDash": [3, 2], "strokeWidth": 1},
    "encoding": {"x": {"field": "x", "type": "quantitative"}, "y": {"field": "y", "type": "quantitative"}, "y2": {"field": "y2"}}},
   {"data": {"values": [{"x":0.78,"x2":0.882,"y":-5.73}]}, "mark": {"type": "rule", "stroke": "#222222", "strokeDash": [4, 2, 1, 2], "strokeWidth": 1},
    "encoding": {"x": {"field": "x", "type": "quantitative"}, "x2": {"field": "x2"}, "y": {"field": "y", "type": "quantitative"}}},
   {"data": {"values": [{"x":0.884,"y":-5.73}]}, "mark": {"type": "point", "shape": "triangle-right", "filled": true, "size": 22, "color": "#222222", "opacity": 1},
    "encoding": {"x": {"field": "x", "type": "quantitative"}, "y": {"field": "y", "type": "quantitative"}}},
   {"data": {"values": [{"x":1.0,"x2":0.918,"y":-3.95}]}, "mark": {"type": "rule", "stroke": "#f22b2b", "strokeDash": [4, 2, 1, 2], "strokeWidth": 1},
    "encoding": {"x": {"field": "x", "type": "quantitative"}, "x2": {"field": "x2"}, "y": {"field": "y", "type": "quantitative"}}},
   {"data": {"values": [{"x":0.916,"y":-3.95}]}, "mark": {"type": "point", "shape": "triangle-left", "filled": true, "size": 22, "color": "#f22b2b", "opacity": 1},
    "encoding": {"x": {"field": "x", "type": "quantitative"}, "y": {"field": "y", "type": "quantitative"}}},
   {"data": {"values": [{"t":"E₁/₂= 0.89 V","x":0.775,"y":-5.5}]}, "mark": {"type": "text", "align": "center", "baseline": "middle", "fontSize": 10, "angle": 346, "color": "#222222"},
    "encoding": {"x": {"field": "x", "type": "quantitative"}, "y": {"field": "y", "type": "quantitative"}, "text": {"field": "t"}}},
   {"data": {"values": [{"t":"E₁/₂= 0.91 V","x":1.0,"y":-3.25}]}, "mark": {"type": "text", "align": "center", "baseline": "middle", "fontSize": 10, "fontWeight": "bold", "angle": 312, "color": "#f22b2b"},
    "encoding": {"x": {"field": "x", "type": "quantitative"}, "y": {"field": "y", "type": "quantitative"}, "text": {"field": "t"}}},
   {"data": {"values": [{"t":"0.1 M KOH","x":0.237,"y":-0.33}]}, "mark": {"type": "text", "align": "left", "baseline": "middle", "fontSize": 10, "color": "#222222"},
    "encoding": {"x": {"field": "x", "type": "quantitative"}, "y": {"field": "y", "type": "quantitative"}, "text": {"field": "t"}}},
   {"data": {"values": [{"s":"Co₂P/Co@N-CNT/NPG","x":0.258,"x2":0.321,"y":-0.72},{"s":"Co@N-CNT/NG","x":0.258,"x2":0.321,"y":-1.19},{"s":"Co₂P/Co@PG","x":0.258,"x2":0.321,"y":-1.65},{"s":"NPG","x":0.258,"x2":0.321,"y":-2.09},{"s":"Pt/C","x":0.258,"x2":0.321,"y":-2.53}]},
    "mark": {"type": "rule", "strokeWidth": 1.6},
    "encoding": {"x": {"field": "x", "type": "quantitative"}, "x2": {"field": "x2"}, "y": {"field": "y", "type": "quantitative"}, "stroke": {"field": "s", "type": "nominal", "legend": null}}},
   {"data": {"values": [{"s":"Co₂P/Co@N-CNT/NPG","x":0.335,"y":-0.72},{"s":"Co@N-CNT/NG","x":0.335,"y":-1.19},{"s":"Co₂P/Co@PG","x":0.335,"y":-1.65},{"s":"NPG","x":0.335,"y":-2.09},{"s":"Pt/C","x":0.335,"y":-2.53}]},
    "mark": {"type": "text", "align": "left", "baseline": "middle", "fontSize": 10},
    "encoding": {"x": {"field": "x", "type": "quantitative"}, "y": {"field": "y", "type": "quantitative"}, "text": {"field": "s"},
     "fill": {"field": "s", "type": "nominal", "scale": {"domain": ["Co₂P/Co@N-CNT/NPG","Co@N-CNT/NG","Co₂P/Co@PG","NPG","Pt/C"], "range": ["#f22b2b","#1f63c9","#17977a","#b25ee0","#333333"]}, "legend": null}}}
  ]
 },
 {
  "width": 208, "height": 168,
  "title": {"text": "(c)", "anchor": "start", "frame": "group", "offset": -22, "baseline": "alphabetic", "dx": -18, "fontSize": 17, "fontWeight": "bold", "color": "#000000"},
  "resolve": {"scale": {"x": "independent"}},
  "layer": [
   {"layer": [
    {"data": {"name": "bars"}, "transform": [{"filter": "datum.type === 'Onset potential'"}],
     "mark": {"type": "bar", "fill": {"gradient": "linear", "x1": 0, "x2": 1, "y1": 0, "y2": 0, "stops": [{"offset": 0, "color": "#c42c3c"}, {"offset": 0.4, "color": "#ff8a8a"}, {"offset": 1, "color": "#d63a48"}]}, "stroke": "#a52a35", "strokeWidth": 0.5},
     "encoding": {
      "x": {"field": "cat", "type": "nominal", "sort": ["Co₂P/Co@N-CNT/NPG","Co@N-CNT/NG","Co₂P/Co@PG","NPG","Pt/C"], "scale": {"domain": ["Co₂P/Co@N-CNT/NPG","Co@N-CNT/NG","Co₂P/Co@PG","NPG","Pt/C"], "paddingInner": 0.22, "paddingOuter": 0.08},
       "axis": {"title": null, "labelAngle": 17, "labelAlign": "left", "labelBaseline": "top", "labelFontSize": 11, "labelLimit": 200, "labelPadding": 3, "labelOffset": -4,
        "labelColor": {"condition": [{"test": "datum.value === 'Co₂P/Co@N-CNT/NPG'", "value": "#f22b2b"}, {"test": "datum.value === 'Co@N-CNT/NG'", "value": "#1f63c9"}, {"test": "datum.value === 'Co₂P/Co@PG'", "value": "#17977a"}, {"test": "datum.value === 'NPG'", "value": "#b25ee0"}], "value": "#555555"}}},
      "xOffset": {"field": "type", "type": "nominal", "scale": {"domain": ["Onset potential", "Hafl-wave potential"], "paddingInner": 0, "paddingOuter": 0}},
      "y": {"field": "v", "type": "quantitative", "scale": {"domain": [0.45, 1.147], "nice": false, "zero": false}, "axis": {"values": [0.45, 0.6, 0.75, 0.9, 1.05], "format": ".2f", "title": "Potential (V vs. RHE)"}},
      "y2": {"datum": 0.45}}},
    {"data": {"name": "bars"}, "transform": [{"filter": "datum.type === 'Hafl-wave potential'"}],
     "mark": {"type": "bar", "fill": {"gradient": "linear", "x1": 0, "x2": 1, "y1": 0, "y2": 0, "stops": [{"offset": 0, "color": "#0d6ec0"}, {"offset": 0.45, "color": "#4ab8ff"}, {"offset": 1, "color": "#1577cc"}]}, "stroke": "#0b5fa8", "strokeWidth": 0.5},
     "encoding": {
      "x": {"field": "cat", "type": "nominal", "sort": ["Co₂P/Co@N-CNT/NPG","Co@N-CNT/NG","Co₂P/Co@PG","NPG","Pt/C"]},
      "xOffset": {"field": "type", "type": "nominal"},
      "y": {"field": "v", "type": "quantitative"},
      "y2": {"datum": 0.45}}},
    {"data": {"name": "bars"}, "mark": {"type": "text", "dy": -7, "fontSize": 10, "fontWeight": "bold"},
     "encoding": {
      "x": {"field": "cat", "type": "nominal", "sort": ["Co₂P/Co@N-CNT/NPG","Co@N-CNT/NG","Co₂P/Co@PG","NPG","Pt/C"]},
      "xOffset": {"field": "type", "type": "nominal"},
      "y": {"field": "v", "type": "quantitative"},
      "text": {"field": "lab"},
      "fill": {"condition": {"test": "datum.type === 'Onset potential'", "value": "#f0475a"}, "value": "#1a9cb0"}}}
   ]},
   {"layer": [
    {"data": {"values": [{"x":0.286,"x2":0.381,"y":1.128,"y2":1.087}]},
     "mark": {"type": "rect", "fill": {"gradient": "linear", "x1": 0, "x2": 0, "y1": 0, "y2": 1, "stops": [{"offset": 0, "color": "#c42c3c"}, {"offset": 0.4, "color": "#ff8a8a"}, {"offset": 1, "color": "#d63a48"}]}, "stroke": "#a52a35", "strokeWidth": 0.5},
     "encoding": {"x": {"field": "x", "type": "quantitative", "scale": {"domain": [0, 1], "nice": false, "zero": false}, "axis": null}, "x2": {"field": "x2"}, "y": {"field": "y", "type": "quantitative"}, "y2": {"field": "y2"}}},
    {"data": {"values": [{"x":0.286,"x2":0.381,"y":1.082,"y2":1.041}]},
     "mark": {"type": "rect", "fill": {"gradient": "linear", "x1": 0, "x2": 0, "y1": 0, "y2": 1, "stops": [{"offset": 0, "color": "#0d6ec0"}, {"offset": 0.45, "color": "#4ab8ff"}, {"offset": 1, "color": "#1577cc"}]}, "stroke": "#0b5fa8", "strokeWidth": 0.5},
     "encoding": {"x": {"field": "x", "type": "quantitative"}, "x2": {"field": "x2"}, "y": {"field": "y", "type": "quantitative"}, "y2": {"field": "y2"}}},
    {"data": {"values": [{"t":"Onset potential","x":0.394,"y":1.107},{"t":"Hafl-wave potential","x":0.394,"y":1.061}]},
     "mark": {"type": "text", "align": "left", "baseline": "middle", "fontSize": 10.5},
     "encoding": {"x": {"field": "x", "type": "quantitative"}, "y": {"field": "y", "type": "quantitative"}, "text": {"field": "t"},
      "fill": {"condition": {"test": "datum.t === 'Onset potential'", "value": "#f0475a"}, "value": "#1a9cb0"}}}
   ]}
  ]
 },
 {
  "width": 208, "height": 168,
  "title": {"text": "(d)", "anchor": "start", "frame": "group", "offset": -24, "baseline": "alphabetic", "dx": -27, "fontSize": 17, "fontWeight": "bold", "color": "#000000"},
  "layer": [
   {"data": {"name": "tafel"}, "transform": [{"filter": "datum.s === 'Co₂P/Co@PG' || datum.s === 'Pt/C'"}], "mark": {"type": "line", "strokeWidth": 6, "stroke": "#f5f1bb", "opacity": 0.8},
    "encoding": {"x": {"field": "x", "type": "quantitative"}, "y": {"field": "y", "type": "quantitative"}, "detail": {"field": "s"}}},
   {"data": {"name": "tafel"}, "mark": {"type": "line", "strokeWidth": 2.2},
    "encoding": {
     "x": {"field": "x", "type": "quantitative", "scale": {"domain": [-0.9, 0.715], "nice": false, "zero": false}, "axis": {"values": [-0.6, -0.3, 0, 0.3, 0.6], "format": ".1f", "title": "log [jₖ] (mA cm⁻²)"}},
     "y": {"field": "y", "type": "quantitative", "scale": {"domain": [0.65, 1.079], "nice": false, "zero": false}, "axis": {"values": [0.7, 0.8, 0.9, 1.0], "format": ".1f", "title": "Potential (V vs. RHE)"}},
     "stroke": {"field": "s", "type": "nominal", "scale": {"domain": ["Co₂P/Co@N-CNT/NPG","Co@N-CNT/NG","Co₂P/Co@PG","NPG","Pt/C"], "range": ["#f22b2b","#1f63c9","#17977a","#b25ee0","#333333"]}, "legend": null}}},
   {"data": {"values": [{"s":"Co₂P/Co@N-CNT/NPG","t":"66.3 mV dec⁻¹","x":-0.136,"y":1.006}]},
    "mark": {"type": "text", "align": "center", "baseline": "middle", "fontSize": 10, "fontWeight": "bold", "angle": 352},
    "encoding": {"x": {"field": "x", "type": "quantitative"}, "y": {"field": "y", "type": "quantitative"}, "text": {"field": "t"},
     "fill": {"field": "s", "type": "nominal", "scale": {"domain": ["Co₂P/Co@N-CNT/NPG","Co@N-CNT/NG","Co₂P/Co@PG","NPG","Pt/C"], "range": ["#f22b2b","#1f63c9","#17977a","#b25ee0","#333333"]}, "legend": null}}},
   {"data": {"values": [{"s":"Pt/C","t":"73.4 mV dec⁻¹","x":-0.623,"y":0.966},{"s":"Co@N-CNT/NG","t":"81.1 mV dec⁻¹","x":0.402,"y":0.864},{"s":"NPG","t":"91.6 mV dec⁻¹","x":0.313,"y":0.809},{"s":"Co₂P/Co@PG","t":"134.2 mV dec⁻¹","x":-0.456,"y":0.834}]},
    "mark": {"type": "text", "align": "center", "baseline": "middle", "fontSize": 10, "fontWeight": "bold", "angle": 11},
    "encoding": {"x": {"field": "x", "type": "quantitative"}, "y": {"field": "y", "type": "quantitative"}, "text": {"field": "t"}, "fill": {"field": "s", "type": "nominal", "legend": null}}},
   {"data": {"values": [{"s":"Co₂P/Co@N-CNT/NPG","x":-0.7,"x2":-0.598,"y":0.743},{"s":"Co@N-CNT/NG","x":-0.7,"x2":-0.598,"y":0.709},{"s":"Co₂P/Co@PG","x":-0.7,"x2":-0.598,"y":0.679},{"s":"NPG","x":0.248,"x2":0.332,"y":0.743},{"s":"Pt/C","x":0.248,"x2":0.332,"y":0.715}]},
    "mark": {"type": "rule", "strokeWidth": 2.2},
    "encoding": {"x": {"field": "x", "type": "quantitative"}, "x2": {"field": "x2"}, "y": {"field": "y", "type": "quantitative"}, "stroke": {"field": "s", "type": "nominal", "legend": null}}},
   {"data": {"values": [{"s":"Co₂P/Co@N-CNT/NPG","x":-0.56,"y":0.743},{"s":"Co@N-CNT/NG","x":-0.56,"y":0.709},{"s":"Co₂P/Co@PG","x":-0.56,"y":0.679},{"s":"NPG","x":0.363,"y":0.743},{"s":"Pt/C","x":0.363,"y":0.715}]},
    "mark": {"type": "text", "align": "left", "baseline": "middle", "fontSize": 10},
    "encoding": {"x": {"field": "x", "type": "quantitative"}, "y": {"field": "y", "type": "quantitative"}, "text": {"field": "s"}, "fill": {"field": "s", "type": "nominal", "legend": null}}}
  ]
 },
 {
  "width": 208, "height": 168,
  "title": {"text": "(e)", "anchor": "start", "frame": "group", "offset": -23, "baseline": "alphabetic", "dx": -33, "fontSize": 17, "fontWeight": "bold", "color": "#000000"},
  "layer": [
   {"data": {"name": "rpm"}, "mark": {"type": "line", "strokeWidth": 1.4},
    "encoding": {
     "x": {"field": "x", "type": "quantitative", "scale": {"domain": [0.2, 1.08], "nice": false, "zero": false}, "axis": {"values": [0.3, 0.5, 0.7, 0.9], "format": ".1f", "title": "Potential (V vs. RHE)"}},
     "y": {"field": "y", "type": "quantitative", "scale": {"domain": [-8, 0], "nice": false, "zero": false}, "axis": {"values": [-8, -6, -4, -2, 0], "title": "j (mA cm⁻²)"}},
     "stroke": {"field": "r", "type": "nominal", "scale": {"domain": ["400 rpm","625 rpm","900 rpm","1225 rpm","1600 rpm","2025 rpm","2500 rpm"], "range": ["#333333","#f22b2b","#1f63c9","#17977a","#b25ee0","#c8782e","#18c0c8"]}, "legend": null}}},
   {"data": {"values": [{"r":"400 rpm","x":0.596,"x2":0.659,"y":-6.54},{"r":"625 rpm","x":0.596,"x2":0.659,"y":-7.09},{"r":"900 rpm","x":0.596,"x2":0.659,"y":-7.64},{"r":"1225 rpm","x":0.835,"x2":0.898,"y":-6.06},{"r":"1600 rpm","x":0.835,"x2":0.898,"y":-6.61},{"r":"2025 rpm","x":0.835,"x2":0.898,"y":-7.13},{"r":"2500 rpm","x":0.835,"x2":0.898,"y":-7.69}]},
    "mark": {"type": "rule", "strokeWidth": 1.6},
    "encoding": {"x": {"field": "x", "type": "quantitative"}, "x2": {"field": "x2"}, "y": {"field": "y", "type": "quantitative"}, "stroke": {"field": "r", "type": "nominal", "legend": null}}},
   {"data": {"values": [{"r":"400 rpm","x":0.68,"y":-6.54},{"r":"625 rpm","x":0.677,"y":-7.09},{"r":"900 rpm","x":0.677,"y":-7.64},{"r":"1225 rpm","x":0.913,"y":-6.06},{"r":"1600 rpm","x":0.913,"y":-6.61},{"r":"2025 rpm","x":0.913,"y":-7.13},{"r":"2500 rpm","x":0.913,"y":-7.69}]},
    "mark": {"type": "text", "align": "left", "baseline": "middle", "fontSize": 10},
    "encoding": {"x": {"field": "x", "type": "quantitative"}, "y": {"field": "y", "type": "quantitative"}, "text": {"field": "r"},
     "fill": {"field": "r", "type": "nominal", "scale": {"domain": ["400 rpm","625 rpm","900 rpm","1225 rpm","1600 rpm","2025 rpm","2500 rpm"], "range": ["#333333","#f22b2b","#1f63c9","#17977a","#b25ee0","#c8782e","#18c0c8"]}, "legend": null}}},
   {"data": {"values": [{"t":"0.1 M KOH","x":0.222,"y":-0.5}]}, "mark": {"type": "text", "align": "left", "baseline": "middle", "fontSize": 10, "color": "#222222"},
    "encoding": {"x": {"field": "x", "type": "quantitative"}, "y": {"field": "y", "type": "quantitative"}, "text": {"field": "t"}}},
   {"data": {"values": [{"t":"Co₂P/Co@N-CNT/NPG","x":0.314,"y":-1.23}]}, "mark": {"type": "text", "align": "left", "baseline": "middle", "fontSize": 10, "color": "#f22b2b"},
    "encoding": {"x": {"field": "x", "type": "quantitative"}, "y": {"field": "y", "type": "quantitative"}, "text": {"field": "t"}}}
  ]
 },
 {
  "width": 208, "height": 168,
  "title": {"text": "(f)", "anchor": "start", "frame": "group", "offset": -23, "baseline": "alphabetic", "dx": -25, "fontSize": 17, "fontWeight": "bold", "color": "#000000"},
  "layer": [
   {"data": {"name": "klfit"}, "mark": {"type": "line", "strokeWidth": 1.4},
    "encoding": {
     "x": {"field": "x", "type": "quantitative", "scale": {"domain": [0.0595, 0.161], "nice": false, "zero": false}, "axis": {"values": [0.06, 0.09, 0.12, 0.15], "format": ".2f", "title": "ω⁻¹/² (rpm⁻¹/²)"}},
     "y": {"field": "y", "type": "quantitative", "scale": {"domain": [0.131, 0.548], "nice": false, "zero": false}, "axis": {"values": [0.2, 0.3, 0.4, 0.5], "format": ".1f", "title": "-j⁻¹ (mA⁻¹ cm²)"}},
     "stroke": {"field": "v", "type": "nominal", "scale": {"domain": ["0.20 V","0.30 V","0.40 V","0.50 V","0.60 V","0.70 V"], "range": ["#f22b2b","#1f63c9","#17977a","#b25ee0","#e08a3a","#1ec8d0"]}, "legend": null}}},
   {"data": {"name": "kl"}, "mark": {"type": "point", "filled": true, "size": 22, "opacity": 1},
    "encoding": {"x": {"field": "x", "type": "quantitative"}, "y": {"field": "y", "type": "quantitative"},
     "fill": {"field": "v", "type": "nominal", "scale": {"domain": ["0.20 V","0.30 V","0.40 V","0.50 V","0.60 V","0.70 V"], "range": ["#f22b2b","#1f63c9","#17977a","#b25ee0","#e08a3a","#1ec8d0"]}, "legend": null},
     "shape": {"field": "v", "type": "nominal", "scale": {"domain": ["0.20 V","0.30 V","0.40 V","0.50 V","0.60 V","0.70 V"], "range": ["circle","triangle-up","triangle-down","diamond","triangle-left","triangle-right"]}, "legend": null}}},
   {"data": {"values": [{"v":"0.20 V","x":0.1396,"y":0.298},{"v":"0.30 V","x":0.1396,"y":0.268},{"v":"0.40 V","x":0.1396,"y":0.241},{"v":"0.50 V","x":0.1396,"y":0.210},{"v":"0.60 V","x":0.1396,"y":0.181},{"v":"0.70 V","x":0.1396,"y":0.152}]},
    "mark": {"type": "point", "filled": true, "size": 22, "opacity": 1},
    "encoding": {"x": {"field": "x", "type": "quantitative"}, "y": {"field": "y", "type": "quantitative"}, "fill": {"field": "v", "type": "nominal", "legend": null}, "shape": {"field": "v", "type": "nominal", "legend": null}}},
   {"data": {"values": [{"v":"0.20 V","x":0.1444,"y":0.298},{"v":"0.30 V","x":0.1444,"y":0.268},{"v":"0.40 V","x":0.1444,"y":0.241},{"v":"0.50 V","x":0.1444,"y":0.210},{"v":"0.60 V","x":0.1444,"y":0.181},{"v":"0.70 V","x":0.1444,"y":0.152}]},
    "mark": {"type": "text", "align": "left", "baseline": "middle", "fontSize": 10.5},
    "encoding": {"x": {"field": "x", "type": "quantitative"}, "y": {"field": "y", "type": "quantitative"}, "text": {"field": "v"}, "fill": {"field": "v", "type": "nominal", "legend": null}}},
   {"data": {"values": [{"t":"Co₂P/Co@N-CNT/NPG","x":0.061,"y":0.525}]}, "mark": {"type": "text", "align": "left", "baseline": "middle", "fontSize": 10, "color": "#f22b2b"},
    "encoding": {"x": {"field": "x", "type": "quantitative"}, "y": {"field": "y", "type": "quantitative"}, "text": {"field": "t"}}}
  ]
 },
 {
  "width": 208, "height": 168,
  "title": {"text": "(g)", "anchor": "start", "frame": "group", "offset": -20, "baseline": "alphabetic", "dx": -26, "fontSize": 17, "fontWeight": "bold", "color": "#000000"},
  "layer": [
   {"data": {"name": "stab"}, "mark": {"type": "line", "strokeWidth": 1.4},
    "encoding": {
     "x": {"field": "t", "type": "quantitative", "scale": {"domain": [0, 43.6], "nice": false, "zero": false}, "axis": {"values": [0, 10, 20, 30, 40], "title": "Time (h)"}},
     "y": {"field": "y", "type": "quantitative", "scale": {"domain": [19.5, 108.7], "nice": false, "zero": false}, "axis": {"values": [20, 40, 60, 80, 100], "title": "Relative current (%)"}},
     "stroke": {"field": "s", "type": "nominal", "scale": {"domain": ["Co₂P/Co@N-CNT/NPG","Co@N-CNT/NG","Co₂P/Co@PG","NPG","Pt/C"], "range": ["#f22b2b","#1f63c9","#17977a","#b25ee0","#333333"]}, "legend": null}}},
   {"data": {"values": [{"t":"Retention ≈94 %","x":35.8,"y":86.6}]}, "mark": {"type": "text", "align": "center", "baseline": "middle", "fontSize": 10, "fontWeight": "bold", "color": "#f22b2b"},
    "encoding": {"x": {"field": "x", "type": "quantitative"}, "y": {"field": "y", "type": "quantitative"}, "text": {"field": "t"}}},
   {"data": {"values": [{"t":"Retention ≈73%","x":19.4,"y":65.9}]}, "mark": {"type": "text", "align": "center", "baseline": "middle", "fontSize": 10, "fontWeight": "bold", "color": "#333333"},
    "encoding": {"x": {"field": "x", "type": "quantitative"}, "y": {"field": "y", "type": "quantitative"}, "text": {"field": "t"}}},
   {"data": {"values": [{"s":"Co₂P/Co@N-CNT/NPG","x":17.7,"x2":20.5,"y":34.3},{"s":"Pt/C","x":17.7,"x2":20.5,"y":27.7}]},
    "mark": {"type": "rule", "strokeWidth": 1.6},
    "encoding": {"x": {"field": "x", "type": "quantitative"}, "x2": {"field": "x2"}, "y": {"field": "y", "type": "quantitative"}, "stroke": {"field": "s", "type": "nominal", "legend": null}}},
   {"data": {"values": [{"s":"Co₂P/Co@N-CNT/NPG","x":21.3,"y":34.3},{"s":"Pt/C","x":21.3,"y":27.7}]},
    "mark": {"type": "text", "align": "left", "baseline": "middle", "fontSize": 10},
    "encoding": {"x": {"field": "x", "type": "quantitative"}, "y": {"field": "y", "type": "quantitative"}, "text": {"field": "s"},
     "fill": {"field": "s", "type": "nominal", "scale": {"domain": ["Co₂P/Co@N-CNT/NPG","Co@N-CNT/NG","Co₂P/Co@PG","NPG","Pt/C"], "range": ["#f22b2b","#1f63c9","#17977a","#b25ee0","#333333"]}, "legend": null}}}
  ]
 },
 {
  "width": 208, "height": 168,
  "title": {"text": "(h)", "anchor": "start", "frame": "group", "offset": -20, "baseline": "alphabetic", "dx": -25, "fontSize": 17, "fontWeight": "bold", "color": "#000000"},
  "resolve": {"scale": {"y": "independent"}},
  "layer": [
   {"layer": [
    {"data": {"name": "lsv"}, "mark": {"type": "line", "strokeWidth": 1.4},
     "encoding": {
      "x": {"field": "x", "type": "quantitative", "scale": {"domain": [0.2, 1.08], "nice": false, "zero": false}, "axis": {"values": [0.3, 0.5, 0.7, 0.9], "format": ".1f", "title": "Potential (V vs. RHE)"}},
      "y": {"field": "y", "type": "quantitative", "scale": {"domain": [-6, 6.28], "nice": false, "zero": false}, "axis": {"orient": "left", "values": [-6, -4, -2, 0], "title": "j (mA cm⁻²)"}},
      "stroke": {"field": "s", "type": "nominal", "scale": {"domain": ["Co₂P/Co@N-CNT/NPG","Co@N-CNT/NG","Co₂P/Co@PG","NPG","Pt/C"], "range": ["#f22b2b","#1f63c9","#17977a","#b25ee0","#333333"]}, "legend": null}}},
    {"data": {"values": [{"x":0.2,"x2":1.0,"y":0}]}, "mark": {"type": "rule", "stroke": "#9a9a9a", "strokeWidth": 1.6, "strokeDash": [2, 1.5]},
     "encoding": {"x": {"field": "x", "type": "quantitative"}, "x2": {"field": "x2"}, "y": {"field": "y", "type": "quantitative"}}},
    {"data": {"values": [{"t":"0.1 M KOH","x":0.213,"y":5.98}]}, "mark": {"type": "text", "align": "left", "baseline": "middle", "fontSize": 10, "color": "#222222"},
     "encoding": {"x": {"field": "x", "type": "quantitative"}, "y": {"field": "y", "type": "quantitative"}, "text": {"field": "t"}}},
    {"data": {"values": [{"t":"I","x":0.234,"y":3.0},{"t":"I","x":0.234,"y":-2.9}]}, "mark": {"type": "text", "align": "left", "baseline": "middle", "fontSize": 14, "fontWeight": "bold", "color": "#20a8b0"},
     "encoding": {"x": {"field": "x", "type": "quantitative"}, "y": {"field": "y", "type": "quantitative"}, "text": {"field": "t"}}},
    {"data": {"values": [{"t":"ring","x":0.258,"y":2.7},{"t":"disk","x":0.258,"y":-3.2}]}, "mark": {"type": "text", "align": "left", "baseline": "middle", "fontSize": 9.5, "fontWeight": "bold", "color": "#20a8b0"},
     "encoding": {"x": {"field": "x", "type": "quantitative"}, "y": {"field": "y", "type": "quantitative"}, "text": {"field": "t"}}},
    {"data": {"values": [{"c":"Co₂P/Co@N-CNT/NPG","x":0.438,"x2":0.497,"y":4.94},{"c":"Pt/C","x":0.438,"x2":0.497,"y":3.91},{"c":"Co@N-CNT/NG","x":0.438,"x2":0.497,"y":3.10},{"c":"NPG","x":0.941,"x2":0.99,"y":4.94},{"c":"Co₂P/Co@PG","x":0.941,"x2":0.99,"y":4.09}]},
     "mark": {"type": "rule", "strokeWidth": 1.6},
     "encoding": {"x": {"field": "x", "type": "quantitative"}, "x2": {"field": "x2"}, "y": {"field": "y", "type": "quantitative"}, "stroke": {"field": "c", "type": "nominal", "legend": null}}},
    {"data": {"values": [{"s":"Co₂P/Co@N-CNT/NPG","x":0.511,"y":4.94},{"s":"Co@N-CNT/NG","x":0.511,"y":3.91},{"s":"Co₂P/Co@PG","x":0.511,"y":3.10},{"s":"NPG","x":0.997,"y":4.94},{"s":"Pt/C","x":0.997,"y":4.09}]},
     "mark": {"type": "text", "align": "left", "baseline": "middle", "fontSize": 10},
     "encoding": {"x": {"field": "x", "type": "quantitative"}, "y": {"field": "y", "type": "quantitative"}, "text": {"field": "s"},
      "fill": {"field": "s", "type": "nominal", "scale": {"domain": ["Co₂P/Co@N-CNT/NPG","Co@N-CNT/NG","Co₂P/Co@PG","NPG","Pt/C"], "range": ["#f22b2b","#1f63c9","#17977a","#b25ee0","#333333"]}, "legend": null}}}
   ]},
   {"data": {"name": "ring"}, "mark": {"type": "line", "strokeWidth": 1.4},
    "encoding": {
     "x": {"field": "x", "type": "quantitative"},
     "y": {"field": "y", "type": "quantitative", "scale": {"domain": [-0.3077, 0.3221], "nice": false, "zero": false}, "axis": {"orient": "left", "values": [0.1, 0.2], "format": ".1f", "title": null}},
     "stroke": {"field": "s", "type": "nominal", "legend": null}}}
  ]
 },
 {
  "width": 208, "height": 168,
  "title": {"text": "(i)", "anchor": "start", "frame": "group", "offset": -21, "baseline": "alphabetic", "dx": -22, "fontSize": 17, "fontWeight": "bold", "color": "#000000"},
  "resolve": {"scale": {"y": "independent"}},
  "layer": [
   {"layer": [
    {"data": {"name": "h2o2"}, "mark": {"type": "line", "strokeWidth": 1.4},
     "encoding": {
      "x": {"field": "x", "type": "quantitative", "scale": {"domain": [0.1, 0.7], "nice": false, "zero": false}, "axis": {"values": [0.1, 0.3, 0.5, 0.7], "format": ".1f", "title": "Potential (V vs. RHE)"}},
      "y": {"field": "y", "type": "quantitative", "scale": {"domain": [0, 64.9], "nice": false, "zero": false}, "axis": {"orient": "left", "values": [0, 10, 20, 30, 40, 50, 60], "title": "H₂O₂ percentage (%)", "labelColor": "#1fb5b5", "titleColor": "#1fb5b5", "domainColor": "#1fb5b5", "tickColor": "#1fb5b5"}},
      "stroke": {"field": "s", "type": "nominal", "scale": {"domain": ["Co₂P/Co@N-CNT/NPG","Co@N-CNT/NG","Co₂P/Co@PG","NPG","Pt/C"], "range": ["#222222","#f22b2b","#1f63c9","#17977a","#b25ee0"]}, "legend": null}}},
    {"data": {"values": [{"s":"Co₂P/Co@N-CNT/NPG","x":0.126,"x2":0.17,"y":45.3},{"s":"Co@N-CNT/NG","x":0.126,"x2":0.17,"y":39.7},{"s":"Co₂P/Co@PG","x":0.126,"x2":0.17,"y":35.0},{"s":"NPG","x":0.126,"x2":0.17,"y":29.9},{"s":"Pt/C","x":0.126,"x2":0.17,"y":25.1}]},
     "mark": {"type": "rule", "strokeWidth": 1.6},
     "encoding": {"x": {"field": "x", "type": "quantitative"}, "x2": {"field": "x2"}, "y": {"field": "y", "type": "quantitative"}, "stroke": {"field": "s", "type": "nominal", "legend": null}}},
    {"data": {"values": [{"s":"Co₂P/Co@N-CNT/NPG","x":0.178,"y":45.3},{"s":"Co@N-CNT/NG","x":0.178,"y":39.7},{"s":"Co₂P/Co@PG","x":0.178,"y":35.0},{"s":"NPG","x":0.178,"y":29.9},{"s":"Pt/C","x":0.178,"y":25.1}]},
     "mark": {"type": "text", "align": "left", "baseline": "middle", "fontSize": 10},
     "encoding": {"x": {"field": "x", "type": "quantitative"}, "y": {"field": "y", "type": "quantitative"}, "text": {"field": "s"},
      "fill": {"field": "s", "type": "nominal", "scale": {"domain": ["Co₂P/Co@N-CNT/NPG","Co@N-CNT/NG","Co₂P/Co@PG","NPG","Pt/C"], "range": ["#f22b2b","#1f63c9","#17977a","#b25ee0","#333333"]}, "legend": null}}},
    {"data": {"values": [{"i":1,"x":0.169,"y":17.7},{"i":2,"x":0.15,"y":20.6},{"i":3,"x":0.128,"y":21.7}]}, "mark": {"type": "line", "stroke": "#1f7ac9", "strokeWidth": 1.3, "interpolate": "monotone"},
     "encoding": {"x": {"field": "x", "type": "quantitative"}, "y": {"field": "y", "type": "quantitative"}, "order": {"field": "i"}}},
    {"data": {"values": [{"x":0.126,"y":21.8}]}, "mark": {"type": "point", "shape": "triangle-left", "filled": true, "size": 25, "color": "#1f7ac9", "opacity": 1},
     "encoding": {"x": {"field": "x", "type": "quantitative"}, "y": {"field": "y", "type": "quantitative"}}},
    {"data": {"values": [{"i":1,"x":0.631,"y":51.7},{"i":2,"x":0.66,"y":49.6},{"i":3,"x":0.682,"y":46.4}]}, "mark": {"type": "line", "stroke": "#f0404a", "strokeWidth": 1.3, "interpolate": "monotone"},
     "encoding": {"x": {"field": "x", "type": "quantitative"}, "y": {"field": "y", "type": "quantitative"}, "order": {"field": "i"}}},
    {"data": {"values": [{"x":0.684,"y":46.2}]}, "mark": {"type": "point", "shape": "triangle-right", "filled": true, "size": 25, "color": "#f0404a", "opacity": 1},
     "encoding": {"x": {"field": "x", "type": "quantitative"}, "y": {"field": "y", "type": "quantitative"}}}
   ]},
   {"data": {"name": "nval"}, "mark": {"type": "line", "strokeWidth": 1.4},
    "encoding": {
     "x": {"field": "x", "type": "quantitative"},
     "y": {"field": "n", "type": "quantitative", "scale": {"domain": [1.0, 4.0], "nice": false, "zero": false}, "axis": {"orient": "right", "values": [1.0, 1.5, 2.0, 2.5, 3.0, 3.5, 4.0], "format": ".1f", "title": "Electron transfer number (n)", "titleAngle": 270, "titleBaseline": "top", "titlePadding": 1, "labelFontSize": 12, "titleFontSize": 12, "labelColor": "#f2404f", "titleColor": "#f2404f", "domainColor": "#f2404f", "tickColor": "#f2404f"}},
     "stroke": {"field": "s", "type": "nominal", "legend": null}}}
  ]
 }
]
}
